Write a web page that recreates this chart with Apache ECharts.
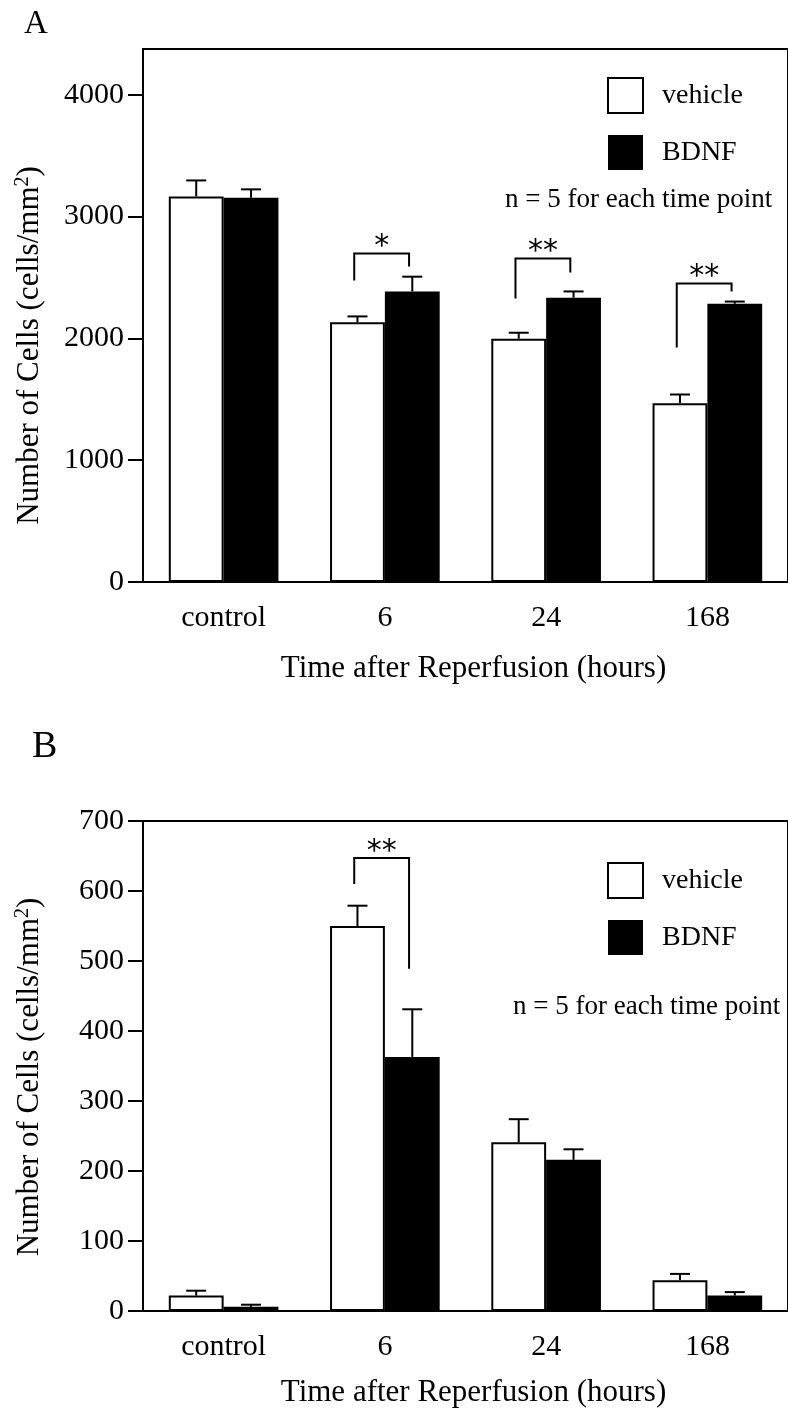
<!DOCTYPE html>
<html>
<head>
<meta charset="utf-8">
<script src="https://cdn.jsdelivr.net/npm/echarts@6/dist/echarts.min.js"></script>
<style>
  html, body { margin: 0; padding: 0; background: #fff; }
  #main { width: 788px; height: 1411px; }
</style>
</head>
<body>
<div id="main"></div>
<script>
// data
var categories = ['control', '6', '24', '168'];

// panel A
var vehicleA = [3165, 2133, 1997, 1468];
var vehicleErrA = [131, 47, 49, 71];
var bdnfA = [3154, 2385, 2333, 2284];
var bdnfErrA = [69, 121, 52, 18];
var ticksA = [0, 1000, 2000, 3000, 4000];
// [category index, bracket top, left foot, right foot, label]
var sigA = [
  [1, 2697, 2475, 2590, '*'],
  [2, 2656, 2328, 2541, '**'],
  [3, 2451, 1925, 2385, '**']
];

// panel B
var vehicleB = [22, 550, 241, 44];
var vehicleErrB = [7, 29, 33, 9];
var bdnfB = [6, 363, 216, 22];
var bdnfErrB = [3, 68, 15, 5];
var ticksB = [0, 100, 200, 300, 400, 500, 600, 700];
var sigB = [
  [1, 647, 610, 489, '**']
];

var serif = "'Liberation Serif', 'DejaVu Serif', serif";
var mychart = echarts.init(document.getElementById('main'));

function xAxisOf(idx, gap) {
  return {
    type: 'category',
    gridIndex: idx,
    data: categories,
    axisLine: { lineStyle: { color: '#000', width: 2 } },
    axisTick: { length: 15, lineStyle: { color: '#000', width: 2 } },
    axisLabel: { color: '#000', fontSize: 30, fontFamily: serif, margin: 21 },
    name: 'Time after Reperfusion (hours)',
    nameLocation: 'middle',
    nameGap: gap,
    nameTextStyle: { color: '#000', fontSize: 31, fontFamily: serif, padding: [0, 0, 0, 16] }
  };
}

function yAxisOf(idx, max, ticks, shift) {
  return {
    type: 'value',
    gridIndex: idx,
    min: 0,
    max: max,
    axisLine: { show: true, lineStyle: { color: '#000', width: 2 } },
    axisTick: { show: true, length: 15, customValues: ticks, lineStyle: { color: '#000', width: 2 } },
    axisLabel: {
      color: '#000', fontSize: 30, fontFamily: serif, margin: 19, customValues: ticks,
      formatter: function (v) { return String(v); }
    },
    splitLine: { show: false },
    name: 'Number of Cells (cells/mm{sup|2})',
    nameLocation: 'middle',
    nameGap: 96,
    nameTextStyle: {
      color: '#000', fontSize: 31, fontFamily: serif,
      padding: [0, shift, 0, 0],
      rich: {
        sup: { fontSize: 20, fontFamily: serif, color: '#000', verticalAlign: 'top', padding: [0, 0, 14, 0] }
      }
    }
  };
}

function barSeries(idx, name, vals, style) {
  return {
    name: name,
    type: 'bar',
    xAxisIndex: idx,
    yAxisIndex: idx,
    data: vals,
    barWidth: '34%',
    barGap: '0%',
    itemStyle: style,
    z: 2
  };
}

// upward error bars, side -1 = vehicle (left), 1 = BDNF (right)
function errSeries(idx, vals, errs, side) {
  return {
    type: 'custom',
    xAxisIndex: idx,
    yAxisIndex: idx,
    data: vals.map(function (v, i) { return [i, v, v + errs[i]]; }),
    renderItem: function (params, api) {
      var band = api.size([1, 0])[0];
      var p0 = api.coord([api.value(0), api.value(1)]);
      var p1 = api.coord([api.value(0), api.value(2)]);
      var x = p0[0] + side * band * 0.17;
      return {
        type: 'group',
        children: [
          { type: 'line', shape: { x1: x, y1: p0[1], x2: x, y2: p1[1] }, style: { stroke: '#000', lineWidth: 2 } },
          { type: 'line', shape: { x1: x - 10, y1: p1[1], x2: x + 10, y2: p1[1] }, style: { stroke: '#000', lineWidth: 2 } }
        ]
      };
    },
    z: 5
  };
}

function sigSeries(idx, rows) {
  return {
    type: 'custom',
    xAxisIndex: idx,
    yAxisIndex: idx,
    data: rows,
    renderItem: function (params, api) {
      var band = api.size([1, 0])[0];
      var row = rows[params.dataIndex];
      var top = api.coord([row[0], row[1]]);
      var lb = api.coord([row[0], row[2]]);
      var rb = api.coord([row[0], row[3]]);
      var xl = top[0] - band * 0.19;
      var xr = top[0] + band * 0.15;
      return {
        type: 'group',
        children: [
          {
            type: 'polyline',
            shape: { points: [[xl, lb[1]], [xl, top[1]], [xr, top[1]], [xr, rb[1]]] },
            style: { stroke: '#000', lineWidth: 2, fill: null }
          },
          {
            type: 'text',
            x: (xl + xr) / 2,
            y: top[1] + 9,
            style: { text: row[4], fill: '#000', fontSize: 30, fontFamily: 'DejaVu Sans', align: 'center', verticalAlign: 'bottom' }
          }
        ]
      };
    },
    z: 6
  };
}

var legendBase = {
  orient: 'vertical',
  left: 607,
  itemWidth: 35,
  itemHeight: 35,
  itemGap: 21,
  padding: 0,
  selectedMode: false,
  data: [
    { name: 'vehicle', icon: 'rect', itemStyle: { color: '#fff', borderColor: '#000', borderWidth: 2 } },
    { name: 'BDNF', icon: 'rect', itemStyle: { color: '#000' } }
  ],
  textStyle: { color: '#000', fontSize: 28, fontFamily: serif, padding: [0, 0, 0, 14] }
};

var option = {
  backgroundColor: '#fff',
  animation: false,
  title: [
    { text: 'A', left: 24, top: 8, padding: 0, textStyle: { fontSize: 33, fontWeight: 'normal', fontFamily: serif, color: '#000' } },
    { text: 'B', left: 32, top: 728, padding: 0, textStyle: { fontSize: 38, fontWeight: 'normal', fontFamily: serif, color: '#000' } },
    { text: 'n = 5 for each time point', left: 505, top: 186, padding: 0, textStyle: { fontSize: 27, fontWeight: 'normal', fontFamily: serif, color: '#000' } },
    { text: 'n = 5 for each time point', left: 513, top: 993, padding: 0, textStyle: { fontSize: 27, fontWeight: 'normal', fontFamily: serif, color: '#000' } }
  ],
  legend: [
    Object.assign({}, legendBase, { top: 77 }),
    Object.assign({}, legendBase, { top: 862 })
  ],
  grid: [
    { left: 143, right: -5, top: 49, bottom: 829, show: true, borderColor: '#000', borderWidth: 2, backgroundColor: 'transparent' },
    { left: 143, right: -5, top: 821, bottom: 100, show: true, borderColor: '#000', borderWidth: 2, backgroundColor: 'transparent' }
  ],
  xAxis: [xAxisOf(0, 71), xAxisOf(1, 66)],
  yAxis: [yAxisOf(0, 4375, ticksA, 60), yAxisOf(1, 700, ticksB, 22)],
  series: [
    barSeries(0, 'vehicle', vehicleA, { color: '#fff', borderColor: '#000', borderWidth: 2 }),
    barSeries(0, 'BDNF', bdnfA, { color: '#000' }),
    errSeries(0, vehicleA, vehicleErrA, -1),
    errSeries(0, bdnfA, bdnfErrA, 1),
    sigSeries(0, sigA),
    barSeries(1, 'vehicle', vehicleB, { color: '#fff', borderColor: '#000', borderWidth: 2 }),
    barSeries(1, 'BDNF', bdnfB, { color: '#000' }),
    errSeries(1, vehicleB, vehicleErrB, -1),
    errSeries(1, bdnfB, bdnfErrB, 1),
    sigSeries(1, sigB)
  ]
};
mychart.setOption(option);
window.addEventListener('resize', function () {
  mychart.resize();
});
</script>
</body>
</html>
